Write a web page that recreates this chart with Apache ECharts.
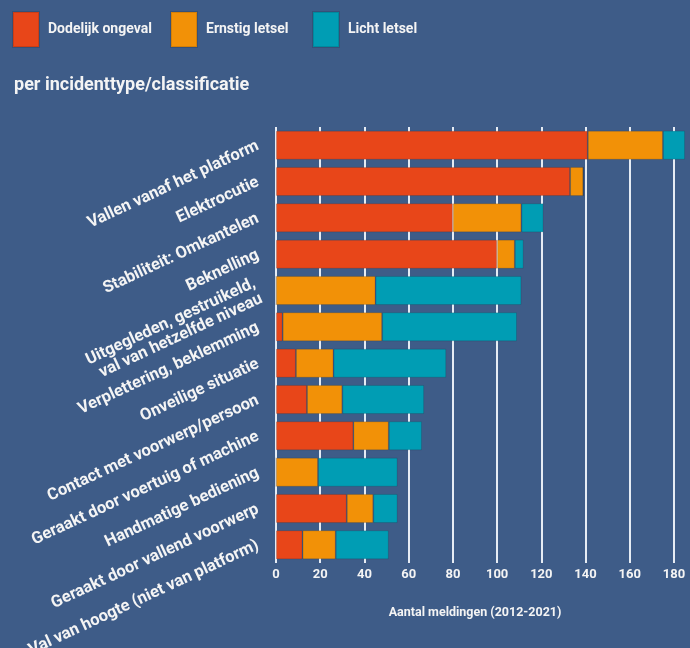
<!DOCTYPE html>
<html>
<head>
<meta charset="utf-8">
<script src="https://cdn.jsdelivr.net/npm/echarts@6/dist/echarts.min.js"></script>
<style>
html,body{margin:0;padding:0;background:#3E5C88;}
#c{width:690px;height:648px;}
</style>
</head>
<body>
<div id="c"></div>
<script>
var categories = [
  "Vallen vanaf het platform",
  "Elektrocutie",
  "Stabiliteit: Omkantelen",
  "Beknelling",
  "Uitgegleden, gestruikeld,\nval van hetzelfde niveau",
  "Verplettering, beklemming",
  "Onveilige situatie",
  "Contact met voorwerp/persoon",
  "Geraakt door voertuig of machine",
  "Handmatige bediening",
  "Geraakt door vallend voorwerp",
  "Val van hoogte (niet van platform)"
];
var dodelijk = [141, 133, 80, 100, 0, 3, 9, 14, 35, 0, 32, 12];
var ernstig  = [34, 6, 31, 8, 45, 45, 17, 16, 16, 19, 12, 15];
var licht    = [10, 0, 10, 4, 66, 61, 51, 37, 15, 36, 11, 24];
var xTicks = [0, 20, 40, 60, 80, 100, 120, 140, 160, 180];

var FONT = "Roboto";
var colors = ["#E84619", "#F29107", "#009DB4"];
var names = ["Dodelijk ongeval", "Ernstig letsel", "Licht letsel"];

var chart = echarts.init(document.getElementById('c'), null, {renderer: 'canvas'});
function legend(i, left) {
  return {
    data: [names[i]], left: left, top: 11, padding: 0, itemWidth: 26, itemHeight: 35,
    icon: 'rect', selectedMode: false,
    textStyle: {color: '#F4F4F4', fontSize: 14, fontWeight: 'bold', fontFamily: FONT, padding: [0,0,0,4]}
  };
}
function series(i, data) {
  return {
    name: names[i], type: 'bar', stack: 'total', data: data, barWidth: '80%',
    clip: false,
    itemStyle: {color: colors[i], borderColor: 'rgba(0,0,0,0.12)', borderWidth: 1},
    emphasis: {disabled: true}
  };
}
chart.setOption({
  backgroundColor: '#3E5C88',
  animation: false,
  title: {
    text: 'per incidenttype/classificatie', left: 14, top: 76, padding: 0,
    textStyle: {color: '#F4F4F4', fontSize: 18, fontWeight: 'bold', fontFamily: FONT}
  },
  legend: [legend(0, 12), legend(1, 170), legend(2, 312)],
  grid: {left: 276, right: 16, top: 127, bottom: 85, containLabel: false, outerBoundsMode: 'none'},
  xAxis: {
    type: 'value', min: xTicks[0], max: xTicks[xTicks.length-1], interval: 20,
    name: 'Aantal meldingen (2012-2021)', nameLocation: 'middle', nameGap: 43,
    nameTextStyle: {color: '#F4F4F4', fontSize: 12.5, fontWeight: 'bold', fontFamily: FONT},
    axisLine: {show: false}, axisTick: {show: false},
    axisLabel: {color: '#F4F4F4', fontSize: 13, fontWeight: 'bold', fontFamily: FONT, margin: 5},
    splitLine: {show: true, lineStyle: {color: '#E6ECF4', width: 2}}
  },
  yAxis: {
    type: 'category', data: categories, inverse: true,
    axisLine: {show: false}, axisTick: {show: false},
    axisLabel: {color: '#F4F4F4', fontSize: 16.5, fontWeight: 'bold', fontFamily: FONT,
      rotate: 25, margin: 18, lineHeight: 17}
  },
  series: [series(0, dodelijk), series(1, ernstig), series(2, licht)]
});
</script>
</body>
</html>
